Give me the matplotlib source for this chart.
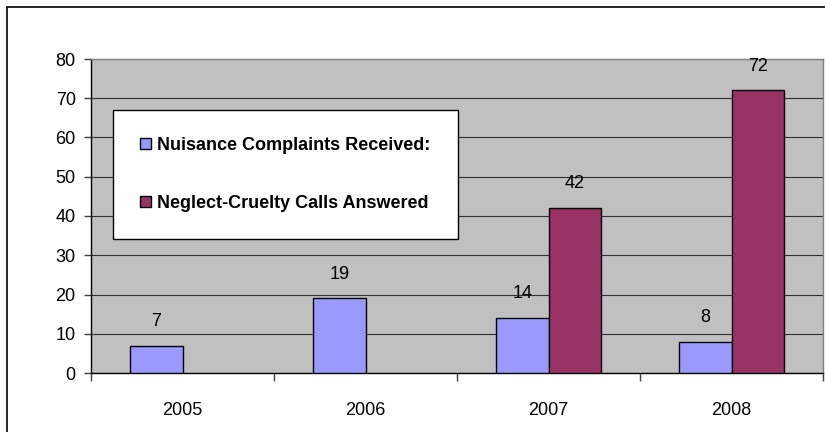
import numpy as np
import matplotlib.pyplot as plt
from matplotlib.patches import Rectangle

years = ["2005", "2006", "2007", "2008"]
nuisance = [7, 19, 14, 8]
neglect = [np.nan, np.nan, 42, 72]
series_names = ["Nuisance Complaints Received:", "Neglect-Cruelty Calls Answered"]
colors = ["#9999FF", "#993366"]

plt.rcParams["font.family"] = ["Liberation Sans", "DejaVu Sans"]

fig = plt.figure(figsize=(8.25, 4.32), dpi=100)
ax = fig.add_axes([91 / 825, 1 - 373 / 432, 732 / 825, 314 / 432])
ax.set_facecolor("#C0C0C0")

x = np.arange(len(years))
w = 0.285
b1 = ax.bar(x - w / 2, nuisance, w, color=colors[0], edgecolor="black", linewidth=1, label=series_names[0], zorder=3)
b2 = ax.bar(x + w / 2, neglect, w, color=colors[1], edgecolor="black", linewidth=1, label=series_names[1], zorder=3)

for bars, vals in [(b1, nuisance), (b2, neglect)]:
    for r, v in zip(bars, vals):
        if np.isnan(v):
            continue
        ax.text(r.get_x() + r.get_width() / 2, v + 6.2, str(int(v)),
                ha="center", va="center", fontsize=13)

ax.set_xlim(-0.5, 3.5)
ax.set_ylim(0, 80)
ax.set_yticks(range(0, 81, 10))
ax.set_xticks(x)
ax.set_xticklabels(years)
ax.set_xticks(np.arange(-0.5, 4, 1), minor=True)
ax.tick_params(axis="x", which="major", length=0, pad=21, labelsize=13)
ax.tick_params(axis="x", which="minor", length=6, direction="out", width=1, color="#404040")
ax.tick_params(axis="y", length=5, width=1, labelsize=13, pad=6, color="#404040")
ax.grid(axis="y", color="#303030", linewidth=0.8, zorder=0)
ax.set_axisbelow(True)
for s in ["top", "right"]:
    ax.spines[s].set_color("#808080")
    ax.spines[s].set_linewidth(1)
ax.spines["left"].set_linewidth(1)
ax.spines["bottom"].set_linewidth(1)

leg = ax.legend(loc="upper left", bbox_to_anchor=(113 / 825, 1 - 110 / 432),
                bbox_transform=fig.transFigure, frameon=True, fancybox=False,
                edgecolor="black", framealpha=1, borderpad=1.5,
                labelspacing=2.25, handlelength=0.6, handleheight=0.6,
                handletextpad=0.35, borderaxespad=0,
                prop={"weight": "bold", "size": 13})
leg.get_frame().set_linewidth(1)
leg.set_zorder(5)

fig.patches.append(Rectangle((7 / 825, -0.5), 2, 1.5 - 7 / 432,
                             transform=fig.transFigure, fill=False,
                             edgecolor="black", linewidth=1.2, clip_on=False))

fig.savefig("out.png", dpi=100)
